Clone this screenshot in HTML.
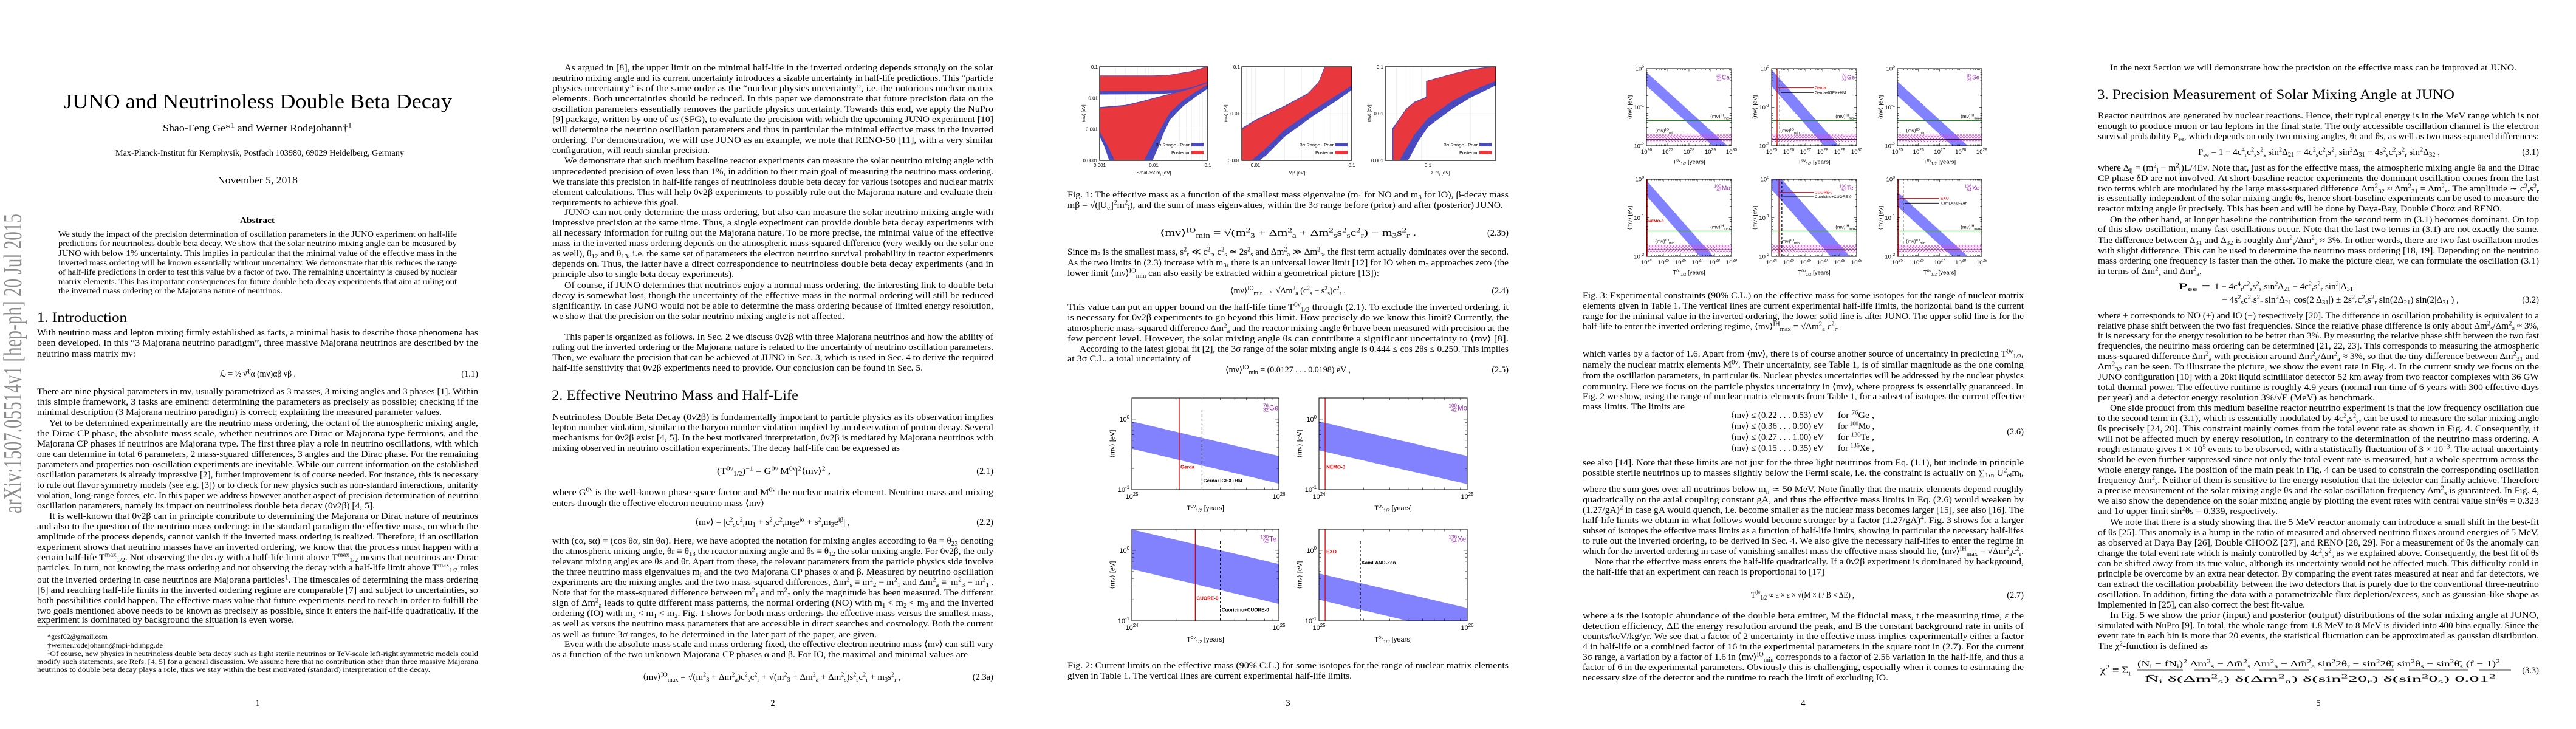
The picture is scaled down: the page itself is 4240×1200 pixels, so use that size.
<!DOCTYPE html>
<html><head><meta charset="utf-8"><title>JUNO and Neutrinoless Double Beta Decay</title>
<style>
html,body{margin:0;padding:0;background:#fff;}
svg{display:block;}
</style></head>
<body>
<svg id="doc" width="4240" height="1200" viewBox="0 0 4240 1200" xmlns="http://www.w3.org/2000/svg">
<defs>
<pattern id="hatch" width="5" height="5" patternUnits="userSpaceOnUse"><path d="M0 0L5 5M5 0L0 5" stroke="#e040e0" stroke-width="0.7"/></pattern>
</defs>
<rect x="0" y="0" width="4240" height="1200" fill="#fff"/>
<g id="text"></g>
<g id="figs"></g>
</svg>
<script>
// ---------------- chart data ----------------
const f1aIoPostUpper=[[1e-3,0.051],[0.01,0.051],[0.02,0.054],[0.05,0.07],[0.1,0.1]];
const f1aIoPostLower=[[0.1,0.033],[0.05,0.022],[0.03,0.0185],[0.01,0.0168],[1e-3,0.0167]];
const f1aIoPriorUpper=[[1e-3,0.053],[0.01,0.053],[0.02,0.056],[0.05,0.073],[0.1,0.104]];
const f1aIoPriorLower=[[0.1,0.021],[0.05,0.0165],[0.03,0.0148],[0.01,0.0132],[1e-3,0.013]];
const f1aNoPostUpper=[[1e-3,0.0047],[0.003,0.0056],[0.006,0.0074],[0.01,0.0094],[0.02,0.013],[0.05,0.02],[0.1,0.03]];
const f1aNoPostLower=[[0.1,0.027],[0.06,0.016],[0.035,0.0085],[0.02,0.0035],[0.014,0.0012],[0.009,0.00028],[0.0066,0.0001],[0.0019,0.0001],[0.0014,0.0003],[1e-3,0.00085]];
const f1aNoPriorUpper=[[1e-3,0.0051],[0.003,0.006],[0.006,0.0079],[0.01,0.01],[0.02,0.0137],[0.05,0.021],[0.1,0.031]];
const f1aNoPriorLower=[[0.1,0.02],[0.06,0.011],[0.035,0.0055],[0.02,0.002],[0.015,0.0007],[0.012,0.00025],[0.0095,0.0001],[0.0015,0.0001],[0.0012,0.0003],[1e-3,0.0006]];
const f1bNoPostUpper=[[0.0072,0.0046],[0.01,0.007],[0.02,0.014],[0.035,0.026],[0.045,0.045],[0.053,0.1],[0.1,0.1]];
const f1bNoPostLower=[[0.1,0.04],[0.07,0.025],[0.04,0.012],[0.02,0.0045],[0.012,0.0016],[0.009,0.001],[0.0072,0.001]];
const f1bNoPriorUpper=[[0.0072,0.0049],[0.01,0.0074],[0.02,0.0147],[0.035,0.0273],[0.045,0.047],[0.052,0.1],[0.1,0.1]];
const f1bNoPriorLower=[[0.1,0.032],[0.07,0.019],[0.04,0.009],[0.02,0.0032],[0.013,0.0013],[0.011,0.001],[0.0072,0.001]];
const f1bIoPostUpper=[[0.046,0.042],[0.07,0.066],[0.1,0.1]];
const f1bIoPostLower=[[0.1,0.05],[0.07,0.033],[0.046,0.02]];
const f1bIoPriorUpper=[[0.045,0.043],[0.07,0.068],[0.1,0.103]];
const f1bIoPriorLower=[[0.1,0.043],[0.07,0.028],[0.045,0.017]];
const f1cNoPostUpper=[[0.057,0.0046],[0.062,0.007],[0.07,0.012],[0.08,0.017],[0.098,0.022],[0.15,0.04],[0.3,0.09]];
const f1cNoPostLower=[[0.3,0.05],[0.2,0.03],[0.15,0.019],[0.1,0.008],[0.08,0.0035],[0.068,0.0015],[0.063,0.001],[0.057,0.001]];
const f1cNoPriorUpper=[[0.056,0.0048],[0.062,0.0074],[0.07,0.0126],[0.08,0.0178],[0.098,0.023],[0.15,0.042],[0.3,0.094]];
const f1cNoPriorLower=[[0.3,0.04],[0.2,0.022],[0.15,0.013],[0.1,0.0052],[0.085,0.0025],[0.075,0.0012],[0.072,0.001],[0.056,0.001]];
const f1cIoPostUpper=[[0.098,0.049],[0.15,0.07],[0.2,0.086],[0.3,0.1]];
const f1cIoPostLower=[[0.3,0.055],[0.2,0.04],[0.15,0.03],[0.098,0.018]];
const f1cIoPriorUpper=[[0.097,0.05],[0.15,0.072],[0.2,0.089],[0.3,0.104]];
const f1cIoPriorLower=[[0.3,0.045],[0.2,0.033],[0.15,0.025],[0.097,0.016]];

const fig2Isotopes=['Ge','Mo','Te','Xe'];
const fig2MassNumber=['76','100','130','136'];
const fig2AtomicNumber=['32','42','52','54'];
const fig2XminExp=[25,24,24,25];
const fig2UpperAtMin=[0.93,0.93,1.98,0.47];
const fig2UpperAtMax=[0.30,0.30,0.64,0.153];
const fig2LowerAtMin=[0.38,0.36,0.54,0.20];
const fig2LowerAtMax=[0.122,0.12,0.174,0.063];
const fig2Limit=[2.1e25,1.1e24,2.7e24,1.1e25];
const fig2Combined=[3.0e25,0,4.0e24,1.9e25];
const fig2LimitName=['Gerda','NEMO-3','CUORE-0','EXO'];
const fig2CombinedName=['Gerda+IGEX+HM','','Cuoricino+CUORE-0','KamLAND-Zen'];
const fig2LimitLabelM=[0.21,0.21,0.21,0.96];
const fig2CombinedLabelM=[0.135,0,0.145,0.67];

const fig3Isotopes=['Ca','Ge','Se','Mo','Te','Xe'];
const fig3MassNumber=['48','76','82','100','130','136'];
const fig3AtomicNumber=['20','32','34','42','52','54'];
const fig3XminExp=[26,25,25,24,24,25];
const fig3XmaxExp=[30,30,29,29,29,29];
const fig3UpperAtMin=[0.81,0.95,0.47,0.93,1.98,0.47];
const fig3UpperAtMax=[0.0081,0.0030,0.0047,0.0029,0.0063,0.0047];
const fig3LowerAtMin=[0.36,0.35,0.20,0.37,0.54,0.20];
const fig3LowerAtMax=[0.0036,0.0011,0.0020,0.00117,0.0017,0.0020];
const fig3Limit=[0,2.1e25,0,1.1e24,2.7e24,1.1e25];
const fig3Combined=[0,3.0e25,0,0,4.0e24,1.9e25];
const fig3LimitName=['','Gerda','','NEMO-3','CUORE-0','EXO'];
const fig3CombinedName=['','Gerda+IGEX+HM','','','Cuoricino+CUORE-0','KamLAND-Zen'];
const fig3LimitLabelM=[0,0.32,0,0.085,0.46,0.32];
const fig3CombinedLabelM=[0,0.24,0,0,0.35,0.24];
const fig3IHmax=[0.045];
const fig3IOminRange=[0.0127,0.0198];
const fig3IOminJuno=[0.0148];

// ---------------- helpers ----------------
const NS='http://www.w3.org/2000/svg';
const TXT=document.getElementById('text');
const FIG=document.getElementById('figs');
const SERIF='"Liberation Serif", "DejaVu Serif", serif';
const SANS='"Liberation Sans", "DejaVu Sans", sans-serif';
const SUBMAP={'₀':'0','₁':'1','₂':'2','₃':'3','₄':'4','₅':'5','₆':'6','₇':'7','₈':'8','₉':'9','ₐ':'a','ₑ':'e','ᵢ':'i','ⱼ':'j','ₘ':'m','ₙ':'n','ₛ':'s','ᵣ':'r','ₓ':'x','ᵥ':'v'};
const SUPMAP={'⁰':'0','¹':'1','²':'2','³':'3','⁴':'4','⁵':'5','⁶':'6','⁷':'7','⁸':'8','⁹':'9','⁻':'−','ᴵ':'I','ᴼ':'O','ᴴ':'H','ᵐ':'m','ᵃ':'a','ˣ':'x','ⁱ':'i','ᵅ':'α','ᵝ':'β','ᵀ':'T','ᵛ':'ν'};
const SUBRE=new RegExp('['+Object.keys(SUBMAP).join('')+']+','g');
const SUPRE=new RegExp('['+Object.keys(SUPMAP).join('')+']+','g');
function convert(s){
  s=s.replace(/₁\/₂/g,'_{1/2}');
  s=s.replace(SUPRE,m=>'^{'+[...m].map(c=>SUPMAP[c]).join('')+'}');
  s=s.replace(SUBRE,m=>'_{'+[...m].map(c=>SUBMAP[c]).join('')+'}');
  return s;
}
function mk(tag,parent){const e=document.createElementNS(NS,tag);parent.appendChild(e);return e;}
function setA(e,o){for(const k in o)e.setAttribute(k,o[k]);return e;}
function fillText(t,s,size){
  const parts=convert(s).split(/(\^\{[^}]*\}|_\{[^}]*\})/);
  let off=0;
  parts.forEach(p=>{
    if(!p)return;
    const sp=mk('tspan',t);
    let target=0,fs=size,txt=p;
    if(p.startsWith('^{')){target=-0.38*size;fs=0.7*size;txt=p.slice(2,-1);}
    else if(p.startsWith('_{')){target=0.22*size;fs=0.7*size;txt=p.slice(2,-1);}
    if(target!==off)sp.setAttribute('dy',(target-off).toFixed(2));
    sp.setAttribute('font-size',fs);
    off=target;
    sp.textContent=txt;
  });
}
function T(parent,x,y,s,size,o){
  o=o||{};
  const t=mk('text',parent);
  
  
  setA(t,{x:x,y:y,'font-size':size,'font-family':o.fam||SERIF,fill:o.fill||'#000'});
  if(o.w){t.setAttribute('textLength',o.w);t.setAttribute('lengthAdjust','spacingAndGlyphs');}
  if(o.anchor)t.setAttribute('text-anchor',o.anchor);
  if(o.weight)t.setAttribute('font-weight',o.weight);
  if(o.rot)t.setAttribute('transform','rotate('+o.rot+' '+x+' '+y+')');
  fillText(t,s,size);return t;
}
function body(p,y,ind,w,s,size){
  const x=p*848+61+(ind?20:0);
  const width=w||(726-(ind?20:0));
  return T(TXT,x,y+5,s,size||14.5,{w:width});
}
function eq(p,y,x,w,s,num){
  T(TXT,x,y+5,s,14.5,{w:w,name:'equation'});
  if(num)T(TXT,p*848+787,y+5,num,14.5,{anchor:'end',name:'equation-number'});
}
function lg(v){return Math.log10(v);}
function line(parent,x1,y1,x2,y2,stroke,sw,dash,name){
  const l=mk('line',parent);
  
  
  setA(l,{x1:x1,y1:y1,x2:x2,y2:y2,stroke:stroke,'stroke-width':sw});
  if(dash)l.setAttribute('stroke-dasharray',dash);
  return l;
}
let clipN=0;
function clipFor(x0,y0,x1,y1){
  const defs=document.querySelector('defs');
  const c=mk('clipPath',defs);const id='cl'+(clipN++);c.setAttribute('id',id);
  setA(mk('rect',c),{x:x0,y:y0,width:x1-x0,height:y1-y0});return id;
}
function pow10(parent,x,y,e,size,anchor){
  const t=mk('text',parent);
  
  
  setA(t,{x:x,y:y,'font-size':size,'font-family':SANS,fill:'#000'});
  if(anchor)t.setAttribute('text-anchor',anchor);
  const a=mk('tspan',t);a.textContent='10';
  const b=mk('tspan',t);setA(b,{dy:-size*0.45,'font-size':size*0.72});b.textContent=String(e);
  return t;
}
function isoLabel(parent,x,y,A,Z,sym,size){
  const g=mk('g',parent);
  
  
  T(g,x,y-size*0.45,A,size*0.7,{fam:SANS,fill:'#9a2ab5',anchor:'end',name:'mass-number'});
  T(g,x,y+size*0.15,Z,size*0.7,{fam:SANS,fill:'#9a2ab5',anchor:'end',name:'atomic-number'});
  T(g,x+1,y-size*0.05,sym,size,{fam:SANS,fill:'#9a2ab5',name:'element-symbol'});
}
function logTicks(g,x0,x1,y0,y1,xa,xb,ya,yb,len){
  for(let d=Math.floor(xa);d<xb;d++){for(let k=1;k<10;k++){const v=lg(k)+d;if(v<xa-1e-9||v>xb+1e-9)continue;
    const X=x0+(v-xa)/(xb-xa)*(x1-x0);const L=k==1?len*1.8:len;
    line(g,X,y1,X,y1-L,'#000',0.6,null,'x-tick');line(g,X,y0,X,y0+L,'#000',0.6,null,'x-tick');}}
  for(let d=Math.floor(ya);d<yb;d++){for(let k=1;k<10;k++){const v=lg(k)+d;if(v<ya-1e-9||v>yb+1e-9)continue;
    const Y=y1-(v-ya)/(yb-ya)*(y1-y0);const L=k==1?len*1.8:len;
    line(g,x0,Y,x0+L,Y,'#000',0.6,null,'y-tick');line(g,x1,Y,x1-L,Y,'#000',0.6,null,'y-tick');}}
}
function frame(g,x0,y0,x1,y1,sw){
  const r=mk('rect',g);
  
  
  setA(r,{x:x0,y:y0,width:x1-x0,height:y1-y0,fill:'none',stroke:'#000','stroke-width':sw});
}

// ---------------- Fig. 1 ----------------
function fig1Panel(name,x0,x1,xr,yr,noPU,noPL,noPrU,noPrL,ioPU,ioPL,ioPrU,ioPrL,xt,yt,xtitle){
  const y0=110,y1=264;
  const g=mk('g',FIG);
  
  
  const sx=v=>x0+(lg(v)-lg(xr[0]))/(lg(xr[1])-lg(xr[0]))*(x1-x0);
  const sy=v=>y1-(lg(v)-lg(yr[0]))/(lg(yr[1])-lg(yr[0]))*(y1-y0);
  for(let d=Math.floor(lg(xr[0]));d<lg(xr[1]);d++)for(let k=1;k<10;k++){const v=k*Math.pow(10,d);if(v<xr[0]||v>xr[1])continue;
    line(g,sx(v),y0,sx(v),y1,'#e6e6e6',0.5,null,'grid-line');}
  for(let d=Math.floor(lg(yr[0]));d<lg(yr[1]);d++){const v=Math.pow(10,d);line(g,x0,sy(v),x1,sy(v),'#e6e6e6',0.5,null,'grid-line');}
  const cid=clipFor(x0,y0,x1,y1);
  const cg=mk('g',g);cg.setAttribute('clip-path','url(#'+cid+')');
  
  
  function poly(up,lo,fill,nm){const p=mk('polygon',cg);
    
    
    p.setAttribute('points',up.concat(lo).map(q=>sx(q[0]).toFixed(1)+','+sy(q[1]).toFixed(1)).join(' '));p.setAttribute('fill',fill);}
  poly(noPrU,noPrL,'#4a4ac0','no-prior-band');poly(ioPrU,ioPrL,'#4a4ac0','io-prior-band');
  poly(noPU,noPL,'#e8373d','no-posterior-band');poly(ioPU,ioPL,'#e8373d','io-posterior-band');
  frame(g,x0,y0,x1,y1,1.3);
  yt.forEach(v=>T(g,x0-3,sy(v)+3,String(v),8,{fam:SANS,anchor:'end',name:'y-tick-label'}));
  xt.forEach(v=>T(g,sx(v),y1+11,String(v),8,{fam:SANS,anchor:'middle',name:'x-tick-label'}));
  T(g,(x0+x1)/2,y1+23,xtitle,8,{fam:SANS,anchor:'middle',name:'x-axis-title'});
  T(g,x0-24,(y0+y1)/2,'⟨mν⟩ [eV]',7,{fam:SANS,anchor:'middle',rot:-90,name:'y-axis-title'});
  T(g,x1-30,y1-23,'3σ Range - Prior',7.5,{fam:SANS,anchor:'end',name:'legend-prior'});
  const s1=mk('rect',g);
  setA(s1,{x:x1-27,y:y1-29,width:20,height:6,fill:'#4a4ac0'});
  T(g,x1-30,y1-10,'Posterior',7.5,{fam:SANS,anchor:'end',name:'legend-posterior'});
  const s2=mk('rect',g);
  setA(s2,{x:x1-27,y:y1-16,width:20,height:6,fill:'#e8373d'});
}
fig1Panel('fig1-smallest-mass',1810,1988,[1e-3,0.1],[1e-4,0.1],f1aNoPostUpper,f1aNoPostLower,f1aNoPriorUpper,f1aNoPriorLower,f1aIoPostUpper,f1aIoPostLower,f1aIoPriorUpper,f1aIoPriorLower,[0.001,0.01,0.1],[0.1,0.01,0.001,0.0001],'Smallest mᵢ [eV]');
fig1Panel('fig1-beta-mass',2044,2225,[0.0072,0.1],[1e-3,0.1],f1bNoPostUpper,f1bNoPostLower,f1bNoPriorUpper,f1bNoPriorLower,f1bIoPostUpper,f1bIoPostLower,f1bIoPriorUpper,f1bIoPriorLower,[0.01,0.1],[0.1,0.01,0.001],'Mβ [eV]');
fig1Panel('fig1-sum-mass',2280,2462,[0.05,0.3],[1e-3,0.1],f1cNoPostUpper,f1cNoPostLower,f1cNoPriorUpper,f1cNoPriorLower,f1cIoPostUpper,f1cIoPostLower,f1cIoPriorUpper,f1cIoPriorLower,[0.1],[0.1,0.01,0.001],'Σ mᵢ [eV]');

// ---------------- Fig. 2 / Fig. 3 panels ----------------
function halfLifePanel(opt,i,iso,A,Z,xa,xb,ya,yb,uMin,uMax,lMin,lMax,lim,comb,limName,combName,limM,combM,isFig3){
  const {x0,x1,y0,y1,fs}=opt;
  const g=mk('g',FIG);
  
  
  const sx=v=>x0+(lg(v)-xa)/(xb-xa)*(x1-x0);
  const sy=v=>y1-(lg(v)-ya)/(yb-ya)*(y1-y0);
  const cid=clipFor(x0,y0,x1,y1);
  const cg=mk('g',g);cg.setAttribute('clip-path','url(#'+cid+')');
  
  
  const xmin=Math.pow(10,xa),xmax=Math.pow(10,xb);
  const band=mk('polygon',cg);
  
  
  band.setAttribute('points',[[xmin,uMin],[xmax,uMax],[xmax,lMax],[xmin,lMin]].map(q=>sx(q[0]).toFixed(1)+','+sy(q[1]).toFixed(1)).join(' '));
  band.setAttribute('fill','#8282ff');
  if(isFig3){
    const h=mk('rect',cg);
    setA(h,{x:x0,y:sy(fig3IOminRange[1]),width:x1-x0,height:sy(fig3IOminRange[0])-sy(fig3IOminRange[1]),fill:'url(#hatch)'});
    line(cg,x0,sy(fig3IOminJuno[0]),x1,sy(fig3IOminJuno[0]),'#000',1.2,null,'io-min-juno-line');
    line(cg,x0,sy(fig3IHmax[0]),x1,sy(fig3IHmax[0]),'#1f8a1f',1.3,null,'ih-max-line');
  }
  if(comb)line(cg,sx(comb),y0+(isFig3?4:20),sx(comb),y1,'#000',1.2,'4,3','combined-limit-line');
  if(lim)line(cg,sx(lim),y0,sx(lim),y1,'#e00000',1.3,null,'experiment-limit-line');
  frame(g,x0,y0,x1,y1,1);
  logTicks(g,x0,x1,y0,y1,xa,xb,ya,yb,isFig3?2.5:3.5);
  for(let e=Math.ceil(ya);e<=Math.floor(yb);e++)pow10(g,x0-4,sy(Math.pow(10,e))+fs*0.35,e,fs,'end');
  for(let e=xa;e<=xb;e++)pow10(g,sx(Math.pow(10,e)),y1+fs*1.35,e,fs,'middle');
  T(g,(x0+x1)/2,y1+fs*3.1,'T⁰ᵛ₁/₂ [years]',fs,{fam:SANS,anchor:'middle',name:'x-axis-title'});
  T(g,x0-fs*2.6,(y0+y1)/2,'⟨mν⟩ [eV]',fs,{fam:SANS,anchor:'middle',rot:-90,name:'y-axis-title'});
  isoLabel(g,x1-17,y0+fs*1.9,A,Z,iso,fs*1.05);
  const ls=isFig3?6.5:8;
  if(lim&&limName){
    if(isFig3&&limName!=='NEMO-3'){
      const tx=x0+71;const Y=sy(limM);
      line(g,tx-2,Y,sx(lim)+2,Y,'#e00000',0.9,null,'label-arrow');
      T(g,sx(lim)+6,Y-2,'‹',6,{fam:SANS,fill:'#e00000',name:'arrow-head'});
      T(g,tx,Y+2,limName,ls,{fam:SANS,fill:'#e00000',name:'limit-label'});
    } else {
      T(g,sx(lim)+2,sy(limM)+3,limName,ls,{fam:SANS,fill:'#e00000',weight:'bold',name:'limit-label'});
    }
  }
  if(comb&&combName){
    if(isFig3){
      const tx=x0+71;const Y=sy(combM);
      line(g,tx-2,Y,sx(comb)+2,Y,'#000',0.9,null,'label-arrow');
      T(g,tx,Y+2,combName,ls,{fam:SANS,name:'combined-label'});
    } else {
      T(g,sx(comb)+2,sy(combM)+3,combName,ls,{fam:SANS,weight:'bold',name:'combined-label'});
    }
  }
  if(isFig3){
    T(g,x1-2,sy(fig3IHmax[0])-4,'⟨mν⟩ᴵᴴₘₐₓ',8,{fam:SANS,anchor:'end',name:'ih-max-label'});
    T(g,x0+14,sy(fig3IOminRange[1])-3,'⟨mν⟩ᴵᴼₘᵢₙ',8,{fam:SANS,name:'io-min-label'});
  }
}
const fig2Frames=[[1863,2105,655,806],[2171,2415,655,806],[1863,2105,871,1022],[2171,2415,871,1022]];
for(let i=0;i<4;i++){
  const f=fig2Frames[i];
  halfLifePanel({x0:f[0],x1:f[1],y0:f[2],y1:f[3],fs:11},i,fig2Isotopes[i],fig2MassNumber[i],fig2AtomicNumber[i],
    fig2XminExp[i],fig2XminExp[i]+1,-1,lg(2.0),fig2UpperAtMin[i],fig2UpperAtMax[i],fig2LowerAtMin[i],fig2LowerAtMax[i],
    fig2Limit[i],fig2Combined[i],fig2LimitName[i],fig2CombinedName[i],fig2LimitLabelM[i],fig2CombinedLabelM[i],false);
}
const fig3ColX=[[2710,2850],[2916,3056],[3123,3262]];
const fig3RowY=[[113,240],[295,422]];
for(let i=0;i<6;i++){
  const c=fig3ColX[i%3],r=fig3RowY[Math.floor(i/3)];
  halfLifePanel({x0:c[0],x1:c[1],y0:r[0],y1:r[1],fs:9.5},i,fig3Isotopes[i],fig3MassNumber[i],fig3AtomicNumber[i],
    fig3XminExp[i],fig3XmaxExp[i],-2,0,fig3UpperAtMin[i],fig3UpperAtMax[i],fig3LowerAtMin[i],fig3LowerAtMax[i],
    fig3Limit[i],fig3Combined[i],fig3LimitName[i],fig3CombinedName[i],fig3LimitLabelM[i],fig3CombinedLabelM[i],true);
}

// ---------------- Page 1 ----------------
T(TXT,35,845,'arXiv:1507.05514v1  [hep-ph]  20 Jul 2015',42,{w:493,rot:-90,fill:'#8c8c8c',name:'arxiv-stamp'});
T(TXT,105,178,'JUNO and Neutrinoless Double Beta Decay',34,{w:639,name:'paper-title'});
T(TXT,268,216,'Shao-Feng Ge*¹ and Werner Rodejohann†¹',17,{w:311,name:'authors'});
T(TXT,185,256,'¹Max-Planck-Institut für Kernphysik, Postfach 103980, 69029 Heidelberg, Germany',13.5,{w:480,name:'affiliation'});
T(TXT,358,302,'November 5, 2018',17,{w:132,name:'date'});
T(TXT,395,367,'Abstract',13.5,{w:57,weight:'bold',name:'abstract-heading'});
[[385,'We study the impact of the precision determination of oscillation parameters in the JUNO experiment on half-life'],
 [400,'predictions for neutrinoless double beta decay. We show that the solar neutrino mixing angle can be measured by'],
 [416,'JUNO with below 1% uncertainty. This implies in particular that the minimal value of the effective mass in the'],
 [432,'inverted mass ordering will be known essentially without uncertainty. We demonstrate that this reduces the range'],
 [447,'of half-life predictions in order to test this value by a factor of two. The remaining uncertainty is caused by nuclear'],
 [463,'matrix elements. This has important consequences for future double beta decay experiments that aim at ruling out'],
 [478,'the inverted mass ordering or the Majorana nature of neutrinos.',369]
].forEach(a=>T(TXT,96,a[0]+5,a[1],13.5,{w:a[2]||656,name:'abstract-line'}));
T(TXT,61,530,'1. Introduction',23,{w:148,name:'section-heading'});
body(0,547,0,0,'With neutrino mass and lepton mixing firmly established as facts, a minimal basis to describe those phenomena has');
body(0,564,0,0,'been developed. In this “3 Majorana neutrino paradigm”, three massive Majorana neutrinos are described by the');
body(0,582,0,162,'neutrino mass matrix mν:');
eq(0,615,362,125,'ℒ = ½ ν̄ᵀα (mν)αβ νβ .','(1.1)');
[[644,0,0,'There are nine physical parameters in mν, usually parametrized as 3 masses, 3 mixing angles and 3 phases [1]. Within'],
 [661,0,0,'this simple framework, 3 tasks are eminent: determining the parameters as precisely as possible; checking if the'],
 [678,0,666,'minimal description (3 Majorana neutrino paradigm) is correct; explaining the measured parameter values.'],
 [696,1,0,'Yet to be determined experimentally are the neutrino mass ordering, the octant of the atmospheric mixing angle,'],
 [713,0,0,'the Dirac CP phase, the absolute mass scale, whether neutrinos are Dirac or Majorana type fermions, and the'],
 [730,0,0,'Majorana CP phases if neutrinos are Majorana type. The first three play a role in neutrino oscillations, with which'],
 [747,0,0,'one can determine in total 6 parameters, 2 mass-squared differences, 3 angles and the Dirac phase. For the remaining'],
 [764,0,0,'parameters and properties non-oscillation experiments are inevitable. While our current information on the established'],
 [781,0,0,'oscillation parameters is already impressive [2], further improvement is of course needed. For instance, this is necessary'],
 [798,0,0,'to rule out flavor symmetry models (see e.g. [3]) or to check for new physics such as non-standard interactions, unitarity'],
 [815,0,0,'violation, long-range forces, etc. In this paper we address however another aspect of precision determination of neutrino'],
 [832,0,556,'oscillation parameters, namely its impact on neutrinoless double beta decay (0ν2β) [4, 5].'],
 [849,1,0,'It is well-known that 0ν2β can in principle contribute to determining the Majorana or Dirac nature of neutrinos'],
 [866,0,0,'and also to the question of the neutrino mass ordering: in the standard paradigm the effective mass, on which the'],
 [883,0,0,'amplitude of the process depends, cannot vanish if the inverted mass ordering is realized. Therefore, if an oscillation'],
 [900,0,0,'experiment shows that neutrino masses have an inverted ordering, we know that the process must happen with a'],
 [917,0,0,'certain half-life Tᵐᵃˣ₁/₂. Not observing the decay with a half-life limit above Tᵐᵃˣ₁/₂ means that neutrinos are Dirac'],
 [934,0,0,'particles. In turn, not knowing the mass ordering and not observing the decay with a half-life limit above Tᵐᵃˣ₁/₂ rules'],
 [954,0,0,'out the inverted ordering in case neutrinos are Majorana particles¹. The timescales of determining the mass ordering'],
 [971,0,0,'[6] and reaching half-life limits in the inverted ordering regime are comparable [7] and subject to uncertainties, so'],
 [988,0,0,'both possibilities could happen. The effective mass value that future experiments need to reach in order to fulfill the'],
 [1005,0,0,'two goals mentioned above needs to be known as precisely as possible, since it enters the half-life quadratically. If the'],
 [1020,0,423,'experiment is dominated by background the situation is even worse.']
].forEach(a=>body(0,a[0],a[1],a[2],a[3]));
line(TXT,61,1031,352,1031,'#000',1,null,'footnote-rule');
T(TXT,78,1052,'*gesf02@gmail.com',12,{w:99,name:'footnote'});
T(TXT,78,1066,'†werner.rodejohann@mpi-hd.mpg.de',12,{w:190,name:'footnote'});
T(TXT,78,1080,'¹Of course, new physics in neutrinoless double beta decay such as light sterile neutrinos or TeV-scale left-right symmetric models could',12,{w:709,name:'footnote'});
T(TXT,61,1093,'modify such statements, see Refs. [4, 5] for a general discussion. We assume here that no contribution other than three massive Majorana',12,{w:726,name:'footnote'});
T(TXT,61,1106,'neutrinos to double beta decay plays a role, thus we stay within the best motivated (standard) interpretation of the decay.',12,{w:647,name:'footnote'});

// ---------------- Page 2 ----------------
[[111,1,0,'As argued in [8], the upper limit on the minimal half-life in the inverted ordering depends strongly on the solar'],
 [128,0,0,'neutrino mixing angle and its current uncertainty introduces a sizable uncertainty in half-life predictions. This “particle'],
 [145,0,0,'physics uncertainty” is of the same order as the “nuclear physics uncertainty”, i.e. the notorious nuclear matrix'],
 [162,0,0,'elements. Both uncertainties should be reduced. In this paper we demonstrate that future precision data on the'],
 [179,0,0,'oscillation parameters essentially removes the particle physics uncertainty. Towards this end, we apply the NuPro'],
 [196,0,0,'[9] package, written by one of us (SFG), to evaluate the precision with which the upcoming JUNO experiment [10]'],
 [213,0,0,'will determine the neutrino oscillation parameters and thus in particular the minimal effective mass in the inverted'],
 [230,0,0,'ordering. For demonstration, we will use JUNO as an example, we note that RENO-50 [11], with a very similar'],
 [247,0,259,'configuration, will reach similar precision.'],
 [264,1,0,'We demonstrate that such medium baseline reactor experiments can measure the solar neutrino mixing angle with'],
 [282,0,0,'unprecedented precision of even less than 1%, in addition to their main goal of measuring the neutrino mass ordering.'],
 [299,0,0,'We translate this precision in half-life ranges of neutrinoless double beta decay for various isotopes and nuclear matrix'],
 [316,0,0,'element calculations. This will help 0ν2β experiments to possibly rule out the Majorana nature and evaluate their'],
 [333,0,208,'requirements to achieve this goal.'],
 [349,1,0,'JUNO can not only determine the mass ordering, but also can measure the solar neutrino mixing angle with'],
 [366,0,0,'impressive precision at the same time. Thus, a single experiment can provide double beta decay experiments with'],
 [383,0,0,'all necessary information for ruling out the Majorana nature. To be more precise, the minimal value of the effective'],
 [400,0,0,'mass in the inverted mass ordering depends on the atmospheric mass-squared difference (very weakly on the solar one'],
 [417,0,0,'as well), θ₁₂ and θ₁₃, i.e. the same set of parameters the electron neutrino survival probability in reactor experiments'],
 [434,0,0,'depends on. Thus, the latter have a direct correspondence to neutrinoless double beta decay experiments (and in'],
 [451,0,299,'principle also to single beta decay experiments).'],
 [469,1,0,'Of course, if JUNO determines that neutrinos enjoy a normal mass ordering, the interesting link to double beta'],
 [486,0,0,'decay is somewhat lost, though the uncertainty of the effective mass in the normal ordering will still be reduced'],
 [503,0,0,'significantly. In case JUNO would not be able to determine the mass ordering because of limited energy resolution,'],
 [520,0,481,'we show that the precision on the solar neutrino mixing angle is not affected.'],
 [554,1,0,'This paper is organized as follows. In Sec. 2 we discuss 0ν2β with three Majorana neutrinos and how the ability of'],
 [571,0,0,'ruling out the inverted ordering or the Majorana nature is related to the uncertainty of neutrino oscillation parameters.'],
 [588,0,0,'Then, we evaluate the precision that can be achieved at JUNO in Sec. 3, which is used in Sec. 4 to derive the required'],
 [605,0,610,'half-life sensitivity that 0ν2β experiments need to provide. Our conclusion can be found in Sec. 5.'],
 [686,0,0,'Neutrinoless Double Beta Decay (0ν2β) is fundamentally important to particle physics as its observation implies'],
 [703,0,0,'lepton number violation, similar to the baryon number violation implied by an observation of proton decay. Several'],
 [720,0,0,'mechanisms for 0ν2β exist [4, 5]. In the best motivated interpretation, 0ν2β is mediated by Majorana neutrinos with'],
 [737,0,572,'mixing observed in neutrino oscillation experiments. The decay half-life can be expressed as'],
 [810,0,0,'where G⁰ᵛ is the well-known phase space factor and M⁰ᵛ the nuclear matrix element. Neutrino mass and mixing'],
 [828,0,349,'enters through the effective electron neutrino mass ⟨mν⟩'],
 [890,0,0,'with (cα, sα) ≡ (cos θα, sin θα). Here, we have adopted the notation for mixing angles according to θa ≡ θ₂₃ denoting'],
 [907,0,0,'the atmospheric mixing angle, θr ≡ θ₁₃ the reactor mixing angle and θs ≡ θ₁₂ the solar mixing angle. For 0ν2β, the only'],
 [924,0,0,'relevant mixing angles are θs and θr. Apart from these, the relevant parameters from the particle physics side involve'],
 [941,0,0,'the three neutrino mass eigenvalues mᵢ and the two Majorana CP phases α and β. Measured by neutrino oscillation'],
 [958,0,0,'experiments are the mixing angles and the two mass-squared differences, Δm²ₛ ≡ m²₂ − m²₁ and Δm²ₐ ≡ |m²₃ − m²₁|.'],
 [975,0,0,'Note that for the mass-squared difference between m²₁ and m²₃ only the magnitude has been measured. The different'],
 [992,0,0,'sign of Δm²ₐ leads to quite different mass patterns, the normal ordering (NO) with m₁ < m₂ < m₃ and the inverted'],
 [1009,0,0,'ordering (IO) with m₃ < m₁ < m₂. Fig. 1 shows for both mass orderings the effective mass versus the smallest mass,'],
 [1026,0,0,'as well as versus the neutrino mass parameters that are accessible in direct searches and cosmology. Both the current'],
 [1044,0,534,'as well as future 3σ ranges, to be determined in the later part of the paper, are given.'],
 [1060,1,0,'Even with the absolute mass scale and mass ordering fixed, the effective electron neutrino mass ⟨mν⟩ can still vary'],
 [1077,0,684,'as a function of the two unknown Majorana CP phases α and β. For IO, the maximal and minimal values are']
].forEach(a=>body(1,a[0],a[1],a[2],a[3]));
T(TXT,908,658,'2. Effective Neutrino Mass and Half-Life',23,{w:406,name:'section-heading'});
eq(1,775,1180,187,'(T⁰ᵛ₁/₂)⁻¹ = G⁰ᵛ|M⁰ᵛ|²⟨mν⟩² ,','(2.1)');
eq(1,859,1144,255,'⟨mν⟩ = |c²ₛc²ᵣm₁ + s²ₛc²ᵣm₂eⁱᵅ + s²ᵣm₃eⁱᵝ| ,','(2.2)');
eq(1,1114,1058,425,'⟨mν⟩ᴵᴼₘₐₓ  =  √(m²₃ + Δm²ₐ)c²ₛc²ᵣ + √(m²₃ + Δm²ₐ + Δm²ₛ)s²ₛc²ᵣ + m₃s²ᵣ ,','(2.3a)');

// ---------------- Page 3 ----------------
[[320,0,0,'Fig. 1: The effective mass as a function of the smallest mass eigenvalue (m₁ for NO and m₃ for IO), β-decay mass'],
 [337,0,717,'mβ = √(|Uₑᵢ|²m²ᵢ), and the sum of mass eigenvalues, within the 3σ range before (prior) and after (posterior) JUNO.'],
 [414,0,0,'Since m₃ is the smallest mass, s²ᵣ ≪ c²ᵣ, c²ₛ ≃ 2s²ₛ and Δm²ₐ ≫ Δm²ₛ, the first term actually dominates over the second.'],
 [432,0,0,'As the two limits in (2.3) increase with m₃, there is an universal lower limit [12] for IO when m₃ approaches zero (the'],
 [449,0,513,'lower limit ⟨mν⟩ᴵᴼₘᵢₙ can also easily be extracted within a geometrical picture [13]):'],
 [505,0,0,'This value can put an upper bound on the half-life time T⁰ᵛ₁/₂ through (2.1). To exclude the inverted ordering, it'],
 [522,0,0,'is necessary for 0ν2β experiments to go beyond this limit. How precisely do we know this limit? Currently, the'],
 [540,0,0,'atmospheric mass-squared difference Δm²ₐ and the reactor mixing angle θr have been measured with precision at the'],
 [557,0,0,'few percent level. However, the solar mixing angle θs can contribute a significant uncertainty to ⟨mν⟩ [8].'],
 [574,1,0,'According to the latest global fit [2], the 3σ range of the solar mixing angle is 0.444 ≤ cos 2θs ≤ 0.250. This implies'],
 [590,0,203,'at 3σ C.L. a total uncertainty of'],
 [1095,0,0,'Fig. 2: Current limits on the effective mass (90% C.L.) for some isotopes for the range of nuclear matrix elements'],
 [1112,0,468,'given in Table 1. The vertical lines are current experimental half-life limits.']
].forEach(a=>body(2,a[0],a[1],a[2],a[3]));
eq(2,383,1909,422,'⟨mν⟩ᴵᴼₘᵢₙ  =  √(m²₃ + Δm²ₐ + Δm²ₛs²ₛc²ᵣ) − m₃s²ᵣ .','(2.3b)');
eq(2,478,2025,190,'⟨mν⟩ᴵᴼₘᵢₙ → √Δm²ₐ (c²ₛ − s²ₛ)c²ᵣ .','(2.4)');
eq(2,608,2017,206,'⟨mν⟩ᴵᴼₘᵢₙ = (0.0127 . . . 0.0198) eV ,','(2.5)');

// ---------------- Page 4 ----------------
[[486,0,0,'Fig. 3: Experimental constraints (90% C.L.) on the effective mass for some isotopes for the range of nuclear matrix'],
 [503,0,0,'elements given in Table 1. The vertical lines are current experimental half-life limits, the horizontal band is the current'],
 [520,0,0,'range for the minimal value in the inverted ordering, the lower solid line is after JUNO. The upper solid line is for the'],
 [537,0,422,'half-life to enter the inverted ordering regime, ⟨mν⟩ᴵᴴₘₐₓ = √Δm²ₐ c²ᵣ.'],
 [582,0,0,'which varies by a factor of 1.6. Apart from ⟨mν⟩, there is of course another source of uncertainty in predicting T⁰ᵛ₁/₂,'],
 [600,0,0,'namely the nuclear matrix elements M⁰ᵛ. Their uncertainty, see Table 1, is of similar magnitude as the one coming'],
 [618,0,0,'from the oscillation parameters, in particular θs. Nuclear physics uncertainties will be addressed by the nuclear physics'],
 [636,0,0,'community. Here we focus on the particle physics uncertainty in ⟨mν⟩, where progress is essentially guaranteed. In'],
 [652,0,0,'Fig. 2 we show, using the range of nuclear matrix elements from Table 1, for a subset of isotopes the current effective'],
 [669,0,168,'mass limits. The limits are'],
 [761,0,0,'see also [14]. Note that these limits are not just for the three light neutrinos from Eq. (1.1), but include in principle'],
 [778,0,0,'possible sterile neutrinos up to masses slightly below the Fermi scale, i.e. the constraint is actually on ∑₁,ₙ U²ₑᵢmᵢ,'],
 [805,0,0,'where the sum goes over all neutrinos below mₙ ≃ 50 MeV. Note finally that the matrix elements depend roughly'],
 [822,0,0,'quadratically on the axial coupling constant gA, and thus the effective mass limits in Eq. (2.6) would weaken by'],
 [839,0,0,'(1.27/gA)² in case gA would quench, i.e. become smaller as the nuclear mass becomes larger [15], see also [16]. The'],
 [856,0,0,'half-life limits we obtain in what follows would become stronger by a factor (1.27/gA)⁴. Fig. 3 shows for a larger'],
 [873,0,0,'subset of isotopes the effective mass limits as a function of half-life limits, showing in particular the necessary half-lifes'],
 [890,0,0,'to rule out the inverted ordering, to be derived in Sec. 4. We also give the necessary half-lifes to enter the regime in'],
 [907,0,0,'which for the inverted ordering in case of vanishing smallest mass the effective mass should lie, ⟨mν⟩ᴵᴴₘₐₓ = √Δm²ₐc²ᵣ.'],
 [924,1,0,'Note that the effective mass enters the half-life quadratically. If a 0ν2β experiment is dominated by background,'],
 [941,0,398,'the half-life that an experiment can reach is proportional to [17]'],
 [1013,0,0,'where a is the isotopic abundance of the double beta emitter, M the fiducial mass, t the measuring time, ε the'],
 [1030,0,0,'detection efficiency, ΔE the energy resolution around the peak, and B the constant background rate in units of'],
 [1047,0,0,'counts/keV/kg/yr. We see that a factor of 2 uncertainty in the effective mass implies experimentally either a factor'],
 [1064,0,0,'4 in half-life or a combined factor of 16 in the experimental parameters in the square root in (2.7). For the current'],
 [1081,0,0,'3σ range, a variation by a factor of 1.6 in ⟨mν⟩ᴵᴼₘᵢₙ corresponds to a factor of 2.56 variation in the half-life, and thus a'],
 [1098,0,0,'factor of 6 in the experimental parameters. Obviously this is challenging, especially when it comes to estimating the'],
 [1115,0,503,'necessary size of the detector and the runtime to reach the limit of excluding IO.']
].forEach(a=>body(3,a[0],a[1],a[2],a[3]));
[[683,'⟨mν⟩ ≤ (0.22 . . . 0.53) eV','for ⁷⁶Ge ,'],[701,'⟨mν⟩ ≤ (0.36 . . . 0.90) eV','for ¹⁰⁰Mo ,'],
 [719,'⟨mν⟩ ≤ (0.27 . . . 1.00) eV','for ¹³⁰Te ,'],[737,'⟨mν⟩ ≤ (0.15 . . . 0.35) eV','for ¹³⁶Xe ,']
].forEach(a=>{T(TXT,2849,a[0]+5,a[1],14.5,{w:153,name:'equation'});T(TXT,3025,a[0]+5,a[2],14.5,{w:60,name:'equation'});});
T(TXT,3331,715,'(2.6)',14.5,{anchor:'end',name:'equation-number'});
eq(3,979,2882,170,'T⁰ᵛ₁/₂ ∝ a × ε × √(M × t / B × ΔE) ,','(2.7)');

// ---------------- Page 5 ----------------
[[111,1,669,'In the next Section we will demonstrate how the precision on the effective mass can be improved at JUNO.'],
 [190,0,0,'Reactor neutrinos are generated by nuclear reactions. Hence, their typical energy is in the MeV range which is not'],
 [207,0,0,'enough to produce muon or tau leptons in the final state. The only accessible oscillation channel is the electron'],
 [224,0,0,'survival probability Pₑₑ, which depends on only two mixing angles, θr and θs, as well as two mass-squared differences:'],
 [276,0,0,'where Δᵢⱼ ≡ (m²ᵢ − m²ⱼ)L/4Eν. Note that, just as for the effective mass, the atmospheric mixing angle θa and the Dirac'],
 [293,0,0,'CP phase δD are not involved. At short-baseline reactor experiments the dominant oscillation comes from the last'],
 [310,0,0,'two terms which are modulated by the large mass-squared difference Δm²₃₂ ≈ Δm²₃₁ = Δm²ₐ. The amplitude ∼ c²ᵣs²ᵣ'],
 [326,0,0,'is essentially independent of the solar mixing angle θs, hence short-baseline experiments can be used to measure the'],
 [343,0,665,'reactor mixing angle θr precisely. This has been and will be done by Daya-Bay, Double Chooz and RENO.'],
 [361,1,0,'On the other hand, at longer baseline the contribution from the second term in (3.1) becomes dominant. On top'],
 [377,0,0,'of this slow oscillation, many fast oscillations occur. Note that the last two terms in (3.1) are not exactly the same.'],
 [395,0,0,'The difference between Δ₃₁ and Δ₃₂ is roughly Δm²ₛ/Δm²ₐ ≈ 3%. In other words, there are two fast oscillation modes'],
 [412,0,0,'with slight difference. This can be used to determine the neutrino mass ordering [18, 19]. Depending on the neutrino'],
 [429,0,0,'mass ordering one frequency is faster than the other. To make the picture clear, we can formulate the oscillation (3.1)'],
 [446,0,171,'in terms of Δm²ₛ and Δm²ₐ,'],
 [519,0,0,'where ± corresponds to NO (+) and IO (−) respectively [20]. The difference in oscillation probability is equivalent to a'],
 [536,0,0,'relative phase shift between the two fast frequencies. Since the relative phase difference is only about Δm²ₛ/Δm²ₐ ≈ 3%,'],
 [552,0,0,'it is necessary for the energy resolution to be better than 3%. By measuring the relative phase shift between the two fast'],
 [569,0,0,'frequencies, the neutrino mass ordering can be determined [21, 22, 23]. This corresponds to measuring the atmospheric'],
 [586,0,0,'mass-squared difference Δm²ₐ with precision around Δm²ₛ/Δm²ₐ ≈ 3%, so that the tiny difference between Δm²₃₁ and'],
 [603,0,0,'Δm²₃₂ can be seen. To illustrate the picture, we show the event rate in Fig. 4. In the current study we focus on the'],
 [620,0,0,'JUNO configuration [10] with a 20kt liquid scintillator detector 52 km away from two reactor complexes with 36 GW'],
 [637,0,0,'total thermal power. The effective runtime is roughly 4.9 years (normal run time of 6 years with 300 effective days'],
 [654,0,456,'per year) and a detector energy resolution 3%/√E (MeV) as benchmark.'],
 [671,1,0,'One side product from this medium baseline reactor neutrino experiment is that the low frequency oscillation due'],
 [688,0,0,'to the second term in (3.1), which is essentially modulated by 4c²ₛs²ₛ, can be used to measure the solar mixing angle'],
 [705,0,0,'θs precisely [24, 20]. This constraint mainly comes from the total event rate as shown in Fig. 4. Consequently, it'],
 [722,0,0,'will not be affected much by energy resolution, in contrary to the determination of the neutrino mass ordering. A'],
 [739,0,0,'rough estimate gives 1 × 10⁵ events to be observed, with a statistically fluctuation of 3 × 10⁻³. The actual uncertainty'],
 [756,0,0,'should be even further suppressed since not only the total event rate is measured, but a whole spectrum across the'],
 [773,0,0,'whole energy range. The position of the main peak in Fig. 4 can be used to constrain the corresponding oscillation'],
 [790,0,0,'frequency Δm²ₛ. Neither of them is sensitive to the energy resolution that the detector can finally achieve. Therefore'],
 [807,0,0,'a precise measurement of the solar mixing angle θs and the solar oscillation frequency Δm²ₛ is guaranteed. In Fig. 4,'],
 [824,0,0,'we also show the dependence on the solar mixing angle by plotting the event rates with central value sin²θs = 0.323'],
 [841,0,296,'and 1σ upper limit sin²θs = 0.339, respectively.'],
 [859,1,0,'We note that there is a study showing that the 5 MeV reactor anomaly can introduce a small shift in the best-fit'],
 [876,0,0,'of θs [25]. This anomaly is a bump in the ratio of measured and observed neutrino fluxes around energies of 5 MeV,'],
 [893,0,0,'as observed at Daya Bay [26], Double CHOOZ [27], and RENO [28, 29]. For a measurement of θs the anomaly can'],
 [910,0,0,'change the total event rate which is mainly controlled by 4c²ₛs²ₛ as we explained above. Consequently, the best fit of θs'],
 [927,0,0,'can be shifted away from its true value, although its uncertainty would not be affected much. This difficulty could in'],
 [944,0,0,'principle be overcome by an extra near detector. By comparing the event rates measured at near and far detectors, we'],
 [961,0,0,'can extract the oscillation probability between the two detectors that is purely due to the conventional three-neutrino'],
 [978,0,0,'oscillation. In addition, fitting the data with a parametrizable flux depletion/excess, such as gaussian-like shape as'],
 [995,0,341,'implemented in [25], can also correct the best fit-value.'],
 [1012,1,0,'In Fig. 5 we show the prior (input) and posterior (output) distributions of the solar mixing angle at JUNO,'],
 [1029,0,0,'simulated with NuPro [9]. In total, the whole range from 1.8 MeV to 8 MeV is divided into 400 bins equally. Since the'],
 [1046,0,0,'event rate in each bin is more that 20 events, the statistical fluctuation can be approximated as gaussian distribution.'],
 [1063,0,181,'The χ²-function is defined as']
].forEach(a=>body(4,a[0],a[1],a[2],a[3]));
T(TXT,3452,163,'3. Precision Measurement of Solar Mixing Angle at JUNO',23,{w:588,name:'section-heading'});
eq(4,250,3618,398,'Pₑₑ = 1 − 4c⁴ᵣc²ₛs²ₛ sin²Δ₂₁ − 4c²ₛc²ᵣs²ᵣ sin²Δ₃₁ − 4s²ₛc²ᵣs²ᵣ sin²Δ₃₂ ,','(3.1)');
T(TXT,3586,476,'Pₑₑ   =',14.5,{w:52,name:'equation'});
T(TXT,3645,476,'1 − 4c⁴ᵣc²ₛs²ₛ sin²Δ₂₁ − 4c²ᵣs²ᵣ sin²|Δ₃₁|',14.5,{w:231,name:'equation'});
eq(4,493,3657,390,'− 4s²ₛc²ᵣs²ᵣ sin²Δ₂₁ cos(2|Δ₃₁|) ± 2s²ₛc²ₛs²ᵣ sin(2Δ₂₁) sin(2|Δ₃₁|) ,','(3.2)');
T(TXT,3457,1108,'χ² ≡ Σᵢ',16,{w:50,name:'equation'});
T(TXT,3518,1097,'(N̄ᵢ − fNᵢ)²      Δm²ₛ − Δm̄²ₛ        Δm²ₐ − Δm̄²ₐ        sin²2θᵣ − sin²2θ̄ᵣ      sin²θₛ − sin²θ̄ₛ      (f − 1)²',14,{w:597,name:'equation'});
T(TXT,3530,1122,'N̄ᵢ          δ(Δm²ₛ)            δ(Δm²ₐ)              δ(sin²2θᵣ)           δ(sin²θₛ)          0.01²',14,{w:578,name:'equation'});
[[3518,3593],[3612,3695],[3718,3800],[3825,3940],[3965,4063],[4080,4133]].forEach(s=>line(TXT,s[0],1103,s[1],1103,'#000',0.8,null,'fraction-bar'));
T(TXT,4179,1108,'(3.3)',14.5,{anchor:'end',name:'equation-number'});

['1','2','3','4','5'].forEach((n,i)=>T(TXT,424+848*i,1162,n,14.5,{anchor:'middle',name:'page-number'}));
</script>
</body></html>
